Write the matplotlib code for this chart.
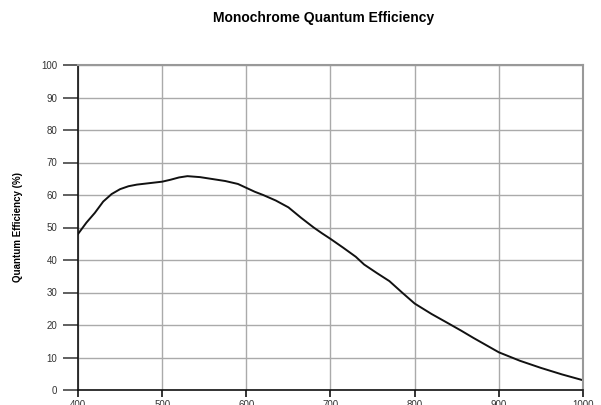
import matplotlib.pyplot as plt

plt.rcParams['font.family'] = ['Liberation Sans', 'DejaVu Sans']

wavelength = [400, 410, 420, 430, 440, 450, 460, 470, 480, 490, 500, 510, 520,
              530, 545, 560, 575, 590, 600, 610, 620, 635, 650, 665, 680, 690,
              700, 715, 730, 740, 755, 770, 785, 800, 820, 840, 855, 870, 885,
              900, 925, 950, 975, 1000]
qe = [48, 51.5, 54.5, 58, 60.3, 61.8, 62.7, 63.2, 63.5, 63.8, 64.1, 64.7, 65.4,
      65.8, 65.5, 64.9, 64.3, 63.4, 62.2, 61, 60, 58.3, 56.2, 53, 50, 48.2,
      46.5, 43.8, 41, 38.6, 36, 33.5, 30, 26.6, 23.4, 20.5, 18.3, 16, 13.8,
      11.6, 9, 6.8, 4.8, 3]

x_ticks = [400, 500, 600, 700, 800, 900, 1000]
y_ticks = [0, 10, 20, 30, 40, 50, 60, 70, 80, 90, 100]

fig = plt.figure(figsize=(6.01, 4.05), dpi=100)
ax = fig.add_axes([78 / 601, 1 - 390 / 405, 505 / 601, 325 / 405])

ax.plot(wavelength, qe, color='#111111', linewidth=1.4)

ax.set_xlim(400, 1000)
ax.set_ylim(0, 100)
ax.set_xticks(x_ticks)
ax.set_yticks(y_ticks)
ax.grid(True, color='#aaaaaa', linewidth=1)
ax.set_axisbelow(True)

for side in ['top', 'right']:
    ax.spines[side].set_color('#999999')
    ax.spines[side].set_linewidth(1.5)
for side in ['left', 'bottom']:
    ax.spines[side].set_color('#111111')
    ax.spines[side].set_linewidth(1.2)

ax.tick_params(axis='y', length=11, width=1.2, color='#444444', pad=4,
               labelsize=7, labelcolor='#333333')
ax.tick_params(axis='x', length=5, width=1.2, color='#111111', pad=2,
               labelsize=7, labelcolor='#333333')

ax.set_ylabel('Quantum Efficiency (%)', fontsize=7, fontweight='bold', labelpad=13)
fig.text(0.538, 1 - 18 / 405, 'Monochrome Quantum Efficiency', ha='center', va='center',
         fontsize=10, fontweight='bold')

fig.savefig('out.png', dpi=100)
